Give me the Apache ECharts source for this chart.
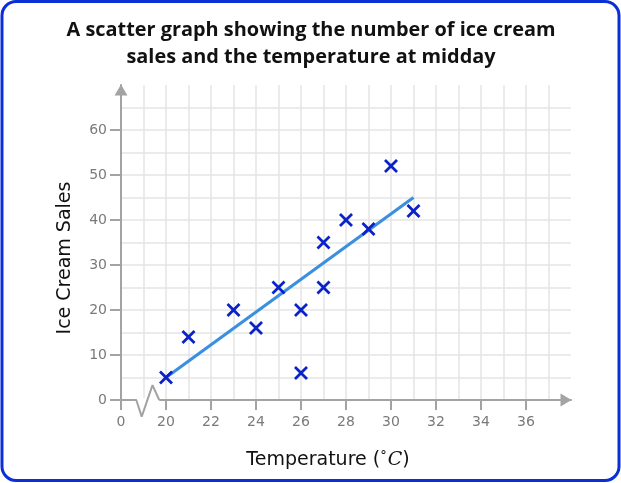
<!DOCTYPE html>
<html><head><meta charset="utf-8">
<script src="https://cdn.jsdelivr.net/npm/echarts@6/dist/echarts.min.js"></script>
<style>html,body{margin:0;padding:0;background:#fff}#c{width:621px;height:483px}</style>
</head><body><div id="c"></div>
<script>
var TITLE_LINES = ['A scatter graph showing the number of ice cream', 'sales and the temperature at midday'];
var X_NAME = 'Temperature (';
var Y_NAME = 'Ice Cream Sales';
var TEMPERATURE = [20, 21, 23, 24, 25, 26, 26, 27, 27, 28, 29, 30, 31];
var SALES = [5, 14, 20, 16, 25, 20, 6, 35, 25, 40, 38, 52, 42];
var FIT_X = [20, 31];
var FIT_Y = [5, 45];
var X_TICKS = [18, 20, 22, 24, 26, 28, 30, 32, 34, 36];
var X_TICK_LABELS = ['0', '20', '22', '24', '26', '28', '30', '32', '34', '36'];
var Y_TICKS = [0, 10, 20, 30, 40, 50, 60];
var BREAK_X = [18.68, 18.92, 19.4, 19.7];
var BREAK_Y = [0, -3.7, 3.3, 0];

var chart = echarts.init(document.getElementById('c'), null, {renderer: 'canvas'});
var axisColor = '#a3a3a3';
var gridColor = '#e5e5e5';
var points = TEMPERATURE.map(function (t, i) { return [t, SALES[i]]; });
var fit = FIT_X.map(function (x, i) { return [x, FIT_Y[i]]; });
var brk = BREAK_X.map(function (x, i) { return [x, BREAK_Y[i]]; });
var cover = [[BREAK_X[0], 0], [BREAK_X[BREAK_X.length - 1], 0]];
var crossPath = 'path://M0,1.4 L1.4,0 L5,3.6 L8.6,0 L10,1.4 L6.4,5 L10,8.6 L8.6,10 L5,6.4 L1.4,10 L0,8.6 L3.6,5 Z';

chart.setOption({
  animation: false,
  backgroundColor: '#fff',
  grid: {left: 121, top: 85, right: 50, bottom: 83, containLabel: false},
  xAxis: {
    type: 'value', min: 18, max: 38, interval: 2,
    axisLine: {show: true, lineStyle: {color: axisColor, width: 2}, symbol: ['none', 'triangle'], symbolSize: [13, 11], symbolOffset: [0, -5]},
    axisTick: {show: true, length: 10, lineStyle: {color: axisColor, width: 2}, customValues: X_TICKS},
    axisLabel: {color: '#7a7a7a', fontSize: 14, fontFamily: 'DejaVu Sans', margin: 15, customValues: X_TICKS,
      formatter: function (v) { var i = X_TICKS.indexOf(v); return i >= 0 ? X_TICK_LABELS[i] : ''; }},
    splitLine: {show: true, lineStyle: {color: gridColor, width: 1.5}},
    minorTick: {show: false, splitNumber: 2},
    minorSplitLine: {show: true, lineStyle: {color: gridColor, width: 1.5}}
  },
  yAxis: {
    type: 'value', min: 0, max: 70, interval: 10,
    axisLine: {show: true, lineStyle: {color: axisColor, width: 2}, symbol: ['none', 'triangle'], symbolSize: [13, 11], symbolOffset: [0, -5]},
    axisTick: {show: true, length: 11, lineStyle: {color: axisColor, width: 2}, customValues: Y_TICKS},
    axisLabel: {color: '#7a7a7a', fontSize: 14, fontFamily: 'DejaVu Sans', margin: 14, customValues: Y_TICKS},
    splitLine: {show: true, lineStyle: {color: gridColor, width: 1.5}},
    minorTick: {show: false, splitNumber: 2},
    minorSplitLine: {show: true, lineStyle: {color: gridColor, width: 1.5}}
  },
  series: [
    {type: 'line', data: cover, symbol: 'none', clip: false, z: 3, silent: true,
      lineStyle: {color: '#fff', width: 4}},
    {type: 'line', data: [[18, 0], [BREAK_X[0], 0]].concat(brk), symbol: 'none', clip: false, z: 4, silent: true,
      lineStyle: {color: axisColor, width: 2}},
    {type: 'line', data: fit, symbol: 'none', z: 5,
      lineStyle: {color: '#3a8fdf', width: 3}},
    {type: 'scatter', data: points, z: 6,
      symbol: crossPath, symbolSize: 14,
      itemStyle: {color: '#0a22c8', opacity: 1}}
  ],
  graphic: [
    {type: 'rect', shape: {x: 2, y: 1.5, width: 617, height: 479, r: 14}, style: {fill: 'none', stroke: '#0a2fd6', lineWidth: 3}, z: 100},
    {type: 'text', x: 311, y: 30, style: {text: TITLE_LINES[0], fill: '#111', font: 'bold 19.9px "Open Sans"', align: 'center', verticalAlign: 'middle'}},
    {type: 'text', x: 311, y: 57, style: {text: TITLE_LINES[1], fill: '#111', font: 'bold 19.9px "Open Sans"', align: 'center', verticalAlign: 'middle'}},
    {type: 'text', x: 65, y: 258, rotation: Math.PI / 2, style: {text: Y_NAME, fill: '#111', font: '19px "DejaVu Sans"', align: 'center', verticalAlign: 'middle'}},
    {type: 'text', x: 328, y: 460, style: {
      text: '{a|' + X_NAME + '}{d|°}{c|C}{a|)}', align: 'center', verticalAlign: 'middle',
      rich: {
        a: {fill: '#111', font: '19px "DejaVu Sans"'},
        d: {fill: '#111', font: '13px "DejaVu Serif"', verticalAlign: 'top', padding: [0, 1, 6, 0]},
        c: {fill: '#111', font: 'italic 19px "DejaVu Serif"'}
      }}}
  ]
});
</script></body></html>
